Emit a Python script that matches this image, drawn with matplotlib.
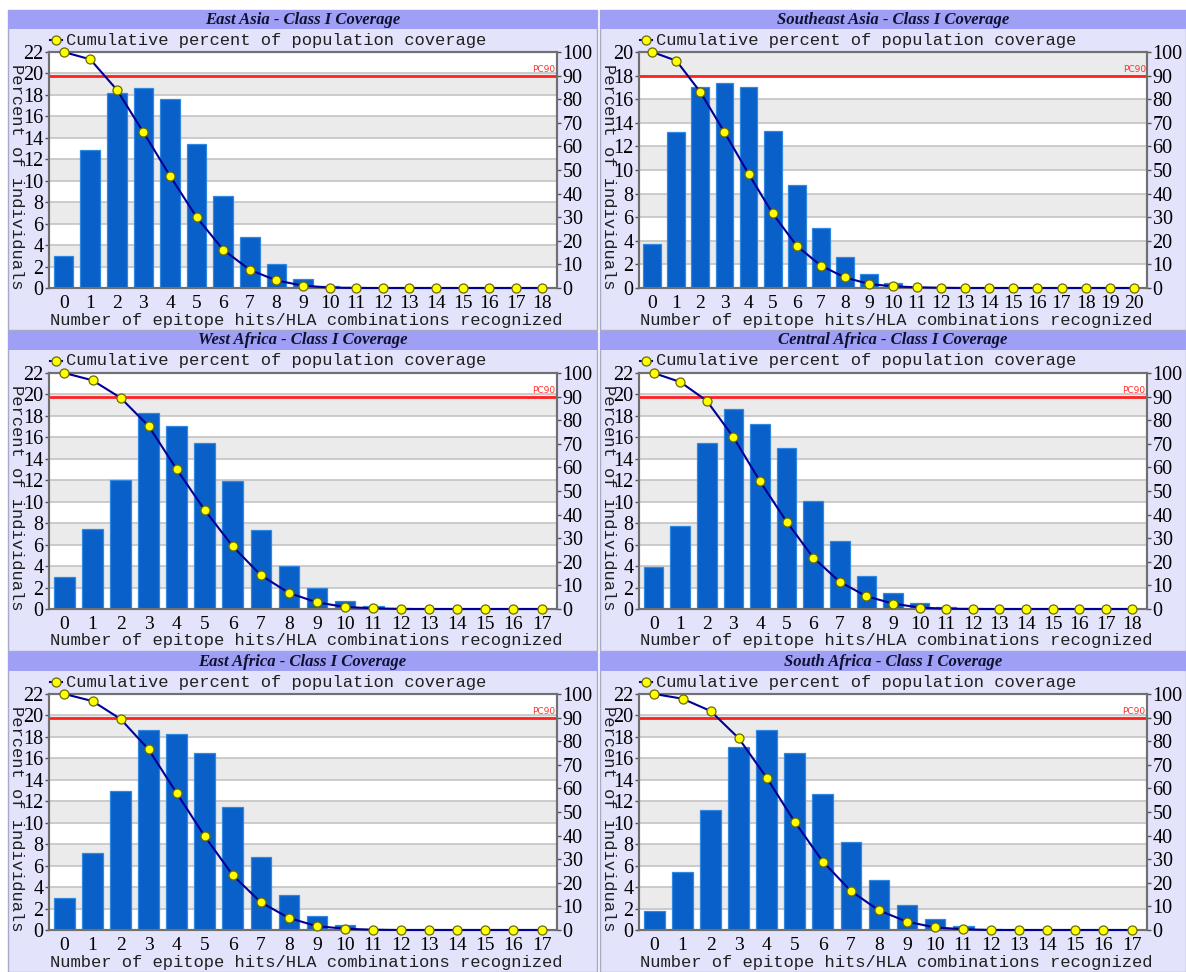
import matplotlib.pyplot as plt
from matplotlib.patches import Rectangle
from matplotlib.lines import Line2D

W, H = 1186, 972

titles = ["East Asia - Class I Coverage", "Southeast Asia - Class I Coverage",
          "West Africa - Class I Coverage", "Central Africa - Class I Coverage",
          "East Africa - Class I Coverage", "South Africa - Class I Coverage"]
left_max = [22, 20, 22, 22, 22, 22]

# percent of individuals per number of hits
east_asia = [3.0, 12.9, 18.2, 18.6, 17.6, 13.4, 8.6, 4.75, 2.2, 0.8, 0.2, 0.05, 0, 0, 0, 0, 0, 0, 0]
southeast_asia = [3.7, 13.2, 17.0, 17.4, 17.0, 13.3, 8.7, 5.1, 2.65, 1.15, 0.4, 0.1, 0, 0, 0, 0, 0, 0, 0, 0, 0]
west_africa = [3.0, 7.45, 12.0, 18.3, 17.1, 15.5, 11.9, 7.35, 4.05, 1.93, 0.75, 0.28, 0.05, 0, 0, 0, 0, 0]
central_africa = [3.9, 7.75, 15.5, 18.65, 17.2, 15.0, 10.1, 6.35, 3.1, 1.46, 0.6, 0.2, 0.05, 0, 0, 0, 0, 0, 0]
east_africa = [2.95, 7.2, 13.0, 18.6, 18.25, 16.5, 11.5, 6.8, 3.3, 1.3, 0.45, 0.1, 0, 0, 0, 0, 0, 0]
south_africa = [1.75, 5.4, 11.15, 17.05, 18.6, 16.5, 12.65, 8.25, 4.65, 2.3, 1.0, 0.37, 0.1, 0, 0, 0, 0, 0]

# cumulative percent of population coverage
east_asia_cum = [100, 96.9, 84.0, 66.0, 47.5, 30.0, 16.2, 7.7, 3.2, 1.0, 0.2, 0, 0, 0, 0, 0, 0, 0, 0]
southeast_asia_cum = [100, 96.3, 83.0, 66.0, 48.4, 31.6, 17.9, 9.5, 4.5, 1.7, 0.7, 0.3, 0.1, 0, 0, 0, 0, 0, 0, 0, 0]
west_africa_cum = [100, 96.9, 89.5, 77.5, 59.2, 41.9, 26.5, 14.3, 6.8, 2.8, 0.85, 0.3, 0, 0, 0, 0, 0, 0]
central_africa_cum = [100, 96.2, 88.2, 72.8, 54.1, 37.0, 21.8, 11.5, 5.4, 2.3, 0.6, 0.15, 0, 0, 0, 0, 0, 0, 0]
east_africa_cum = [100, 97.0, 89.4, 76.5, 58.0, 39.7, 23.2, 11.7, 5.1, 1.6, 0.55, 0.1, 0, 0, 0, 0, 0, 0]
south_africa_cum = [100, 98.0, 92.8, 81.3, 64.5, 45.8, 29.0, 16.5, 8.3, 3.5, 1.1, 0.3, 0, 0, 0, 0, 0, 0]

bars = [east_asia, southeast_asia, west_africa, central_africa, east_africa, south_africa]
cums = [east_asia_cum, southeast_asia_cum, west_africa_cum, central_africa_cum, east_africa_cum, south_africa_cum]

fig = plt.figure(figsize=(W / 100, H / 100), dpi=100)
fig.patch.set_facecolor("white")


def fr(x0, y0, x1, y1):
    return [x0 / W, 1 - y1 / H, (x1 - x0) / W, (y1 - y0) / H]


def fx(x):
    return x / W


def fy(y):
    return 1 - y / H


serif = "Liberation Serif"
mono = "Liberation Mono"
panel_x = [(8, 597), (600, 1186)]
plot_x = [(49, 557), (639, 1147)]
band_tops = [10, 331, 652]

for i in range(6):
    r, c = i // 2, i % 2
    bt = band_tops[r]
    px0, px1 = panel_x[c]
    ax0, ax1 = plot_x[c]

    # panel background and title band
    fig.add_artist(Rectangle((fx(px0), fy(bt + 320)), (px1 - px0) / W, 320 / H,
                             transform=fig.transFigure, facecolor="#e3e3fb",
                             edgecolor="#a8a8c8", lw=1, zorder=0))
    fig.add_artist(Rectangle((fx(px0), fy(bt + 19)), (px1 - px0) / W, 19 / H,
                             transform=fig.transFigure, facecolor="#9f9ff5",
                             edgecolor="none", zorder=0.5))
    fig.text(fx((px0 + px1) / 2), fy(bt + 9.5), titles[i], ha="center", va="center",
             fontsize=12, fontweight="bold", fontstyle="italic", family=serif, color="#101030")

    ax = fig.add_axes(fr(ax0, bt + 42, ax1, bt + 278))
    n = len(bars[i])
    x = list(range(n))
    ym = left_max[i]
    ax.set_xlim(-0.55, n - 1 + 0.55)
    ax.set_ylim(0, ym)
    ax.set_facecolor("white")
    for k in range(0, ym, 2):
        if (k // 2) % 2 == 1:
            ax.axhspan(k, k + 2, color="#ebebeb", zorder=0, lw=0)
    for k in range(2, ym, 2):
        ax.axhline(k, color="#c4c4c4", lw=1.2, zorder=0.5)
    ax.bar(x, bars[i], width=0.74, color="#0860c8", edgecolor="#3088e2", lw=0.9, zorder=2)
    ax.set_yticks(range(0, ym + 1, 2))
    ax.set_xticks(x)
    ax.tick_params(axis="y", direction="out", length=3, width=1, pad=1, labelsize=14.5, color="#555555")
    ax.tick_params(axis="x", length=0, pad=5, labelsize=14)
    for lab in ax.get_xticklabels() + ax.get_yticklabels():
        lab.set_family(serif)
    for s in ax.spines.values():
        s.set_color("#707070")
        s.set_linewidth(1.5)

    ax2 = ax.twinx()
    ax2.set_ylim(0, 100)
    ax2.set_yticks(range(0, 101, 10))
    ax2.tick_params(axis="y", direction="out", length=3, width=1, pad=1, labelsize=14.5, color="#555555")
    for lab in ax2.get_yticklabels():
        lab.set_family(serif)
    for s in ax2.spines.values():
        s.set_color("#707070")
        s.set_linewidth(1.5)
    ax2.axhline(90, color="#ff2020", lw=2, zorder=1)
    ax2.text(n - 1 + 0.5, 90.6, "PC90", color="#ff3030", fontsize=6.5, ha="right", va="bottom")
    ax2.plot(x, cums[i], color="#000099", lw=1.5, marker="o", markersize=6.5,
             markerfacecolor="#ffff00", markeredgecolor="#6a6a00", markeredgewidth=0.9, zorder=3,
             clip_on=False)

    # legend and axis labels
    ly = bt + 30
    fig.add_artist(Line2D([fx(ax0 + 1), fx(ax0 + 13)], [fy(ly), fy(ly)], transform=fig.transFigure,
                          color="#000099", lw=1.5, zorder=3))
    fig.add_artist(Line2D([fx(ax0 + 7)], [fy(ly)], transform=fig.transFigure, marker="o",
                          markersize=6.5, markerfacecolor="#ffff00", markeredgecolor="#6a6a00",
                          markeredgewidth=0.9, lw=0, zorder=3))
    fig.text(fx(ax0 + 17), fy(ly), "Cumulative percent of population coverage", ha="left",
             va="center", fontsize=12.3, family=mono, color="#202020")
    fig.text(fx((ax0 + ax1) / 2 + 3), fy(bt + 310), "Number of epitope hits/HLA combinations recognized",
             ha="center", va="center", fontsize=12.3, family=mono, color="#202020")
    fig.text(fx(px0 + 8), fy(bt + 167), "Percent of individuals", rotation=-90,
             ha="center", va="center", fontsize=12.3, family=mono, color="#202020")

fig.savefig("out.png", dpi=100)
